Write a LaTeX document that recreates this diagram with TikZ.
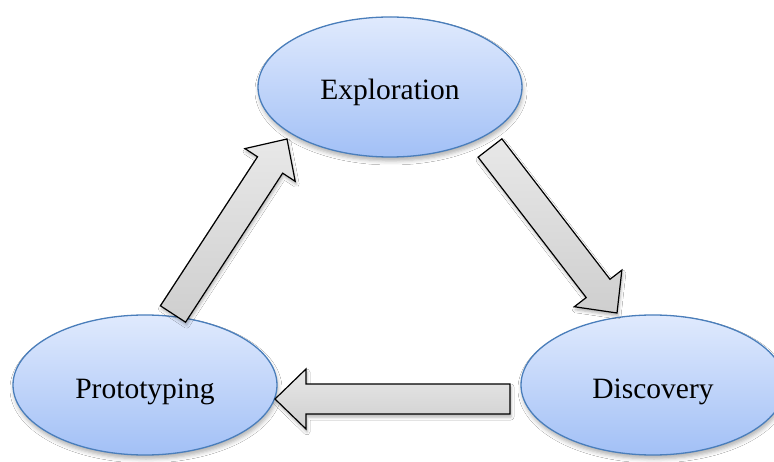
\documentclass[tikz,border=0pt]{standalone}
\usepackage{fontspec}
\setmainfont{Liberation Serif}
\usetikzlibrary{calc,shapes.geometric,shadows.blur}

\definecolor{ovalline}{HTML}{4A7EBB}
\definecolor{ovaltop}{HTML}{E0EAFD}
\definecolor{ovalbot}{HTML}{A2C0F6}

\tikzset{
  stage/.style={ellipse, draw=ovalline, line width=1.3pt,
    top color=ovaltop, bottom color=ovalbot,
    minimum width=264pt, minimum height=140pt, inner sep=0pt,
    text height=30pt, text depth=4pt,
    font=\fontsize{29.5}{34}\selectfont,
    blur shadow={shadow xshift=1pt, shadow yshift=-4pt,
      shadow blur radius=4pt, shadow opacity=30}},
  flowarrow/.style={draw=black, line width=1.2pt, line join=miter,
    top color=black!9, bottom color=black!19,
    blur shadow={shadow xshift=1pt, shadow yshift=-3pt,
      shadow blur radius=3pt, shadow opacity=30}},
}

% block arrow from tail centre #1 to tip #2
\newcommand{\drawblockarrow}[2]{%
  \path ($(#2)!31pt!(#1)$) coordinate (hb);
  \draw[flowarrow]
    ($(#1)!15pt!90:(#2)$) -- ($(hb)!15pt!90:(#2)$) -- ($(hb)!30pt!90:(#2)$)
    -- (#2)
    -- ($(hb)!30pt!-90:(#2)$) -- ($(hb)!15pt!-90:(#2)$) -- ($(#1)!15pt!-90:(#2)$)
    -- cycle;
}

\begin{document}
\begin{tikzpicture}[x=1pt,y=-1pt]
  \path[use as bounding box] (0,0) rectangle (774,462);
  \clip (0,0) rectangle (774,462);
  \fill[white] (0,0) rectangle (774,462);

  % the three stages
  \node[stage] (expl)  at (390,87)  {Exploration};
  \node[stage] (disc)  at (653,385) {Discovery};
  \node[stage] (proto) at (145,385) {Prototyping};

  % arrow end points
  \coordinate (upTail)    at (173,314);
  \coordinate (upTip)     at (287,139);
  \coordinate (downTail)  at (490,148);
  \coordinate (downTip)   at (617,313);
  \coordinate (backTail)  at (510,399);
  \coordinate (backTip)   at (275,399);

  \drawblockarrow{downTail}{downTip}
  \drawblockarrow{backTail}{backTip}
  \drawblockarrow{upTail}{upTip}
\end{tikzpicture}
\end{document}
